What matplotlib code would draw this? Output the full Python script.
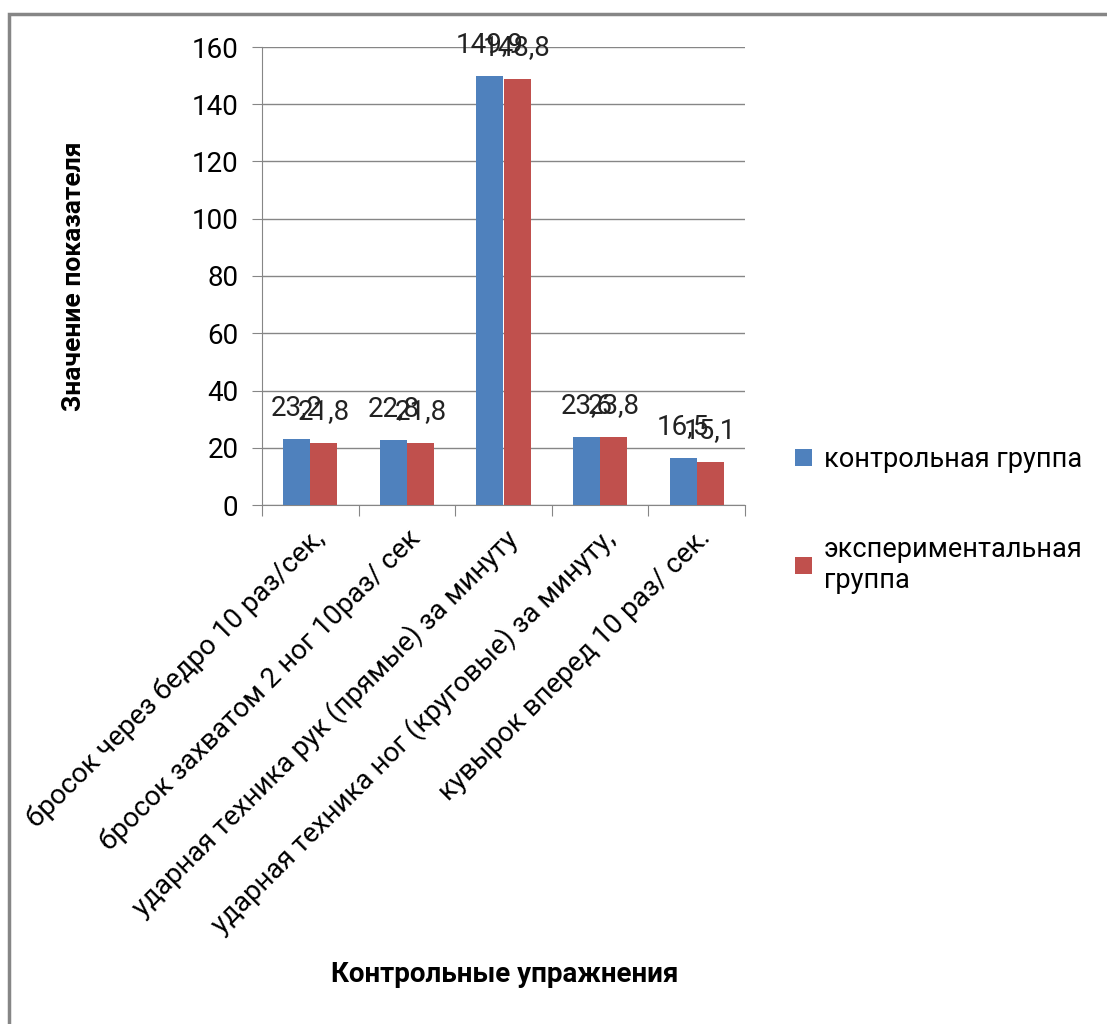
import numpy as np
import matplotlib.pyplot as plt
from matplotlib.patches import Rectangle

plt.rcParams['font.family'] = ['Roboto', 'DejaVu Sans']

categories = ['бросок через бедро 10 раз/сек,',
              'бросок захватом 2 ног 10раз/ сек',
              'ударная техника рук (прямые) за минуту',
              'ударная техника ног (круговые) за минуту,',
              'кувырок вперед 10 раз/ сек.']
control = [23.2, 22.8, 149.9, 23.6, 16.5]
experiment = [21.8, 21.8, 148.8, 23.8, 15.1]
series_names = ['контрольная группа', 'экспериментальная\nгруппа']
colors = ['#4F81BD', '#C0504D']


def fmt(v):
    return f'{v:.1f}'.replace('.', ',')


fig = plt.figure(figsize=(11.07, 10.24), dpi=100)
# outer chart border
fig.patches.append(Rectangle((9 / 1107, -0.05), 1.2, 1 - 14 / 1024 + 0.05,
                             transform=fig.transFigure, fill=False,
                             edgecolor='#868686', linewidth=2.5))

ax = fig.add_axes([262 / 1107, 1 - 505 / 1024, 483 / 1107, 458 / 1024])

x = np.arange(len(categories))
w = 0.28
bars1 = ax.bar(x - w / 2, control, w, color=colors[0], label=series_names[0], zorder=3)
bars2 = ax.bar(x + w / 2, experiment, w, color=colors[1], label=series_names[1], zorder=3)

for bars, vals in [(bars1, control), (bars2, experiment)]:
    for b, v in zip(bars, vals):
        ax.annotate(fmt(v), (b.get_x() + b.get_width() / 2, v),
                    xytext=(0, 13), textcoords='offset points',
                    ha='center', va='bottom', fontsize=20, color='#222222', zorder=4)

ax.set_xlim(-0.5, len(categories) - 0.5)
ax.set_ylim(0, 160)
ax.set_yticks(np.arange(0, 161, 20))
ax.tick_params(axis='y', labelsize=20, length=7, color='#868686', pad=10)
ax.yaxis.grid(True, color='#868686', linewidth=1, zorder=0)

ax.set_xticks(np.arange(-0.5, len(categories)))
ax.set_xticklabels([])
ax.set_xticks(x, minor=True)
ax.set_xticklabels(categories, minor=True, rotation=45, ha='right',
                   rotation_mode='anchor', fontsize=20)
ax.tick_params(axis='x', which='major', length=8, color='#868686')
ax.tick_params(axis='x', which='minor', length=0, pad=14)

for s in ['top', 'right']:
    ax.spines[s].set_visible(False)
for s in ['left', 'bottom']:
    ax.spines[s].set_color('#868686')

ax.set_ylabel('Значение показателя', fontsize=19, fontweight='bold', labelpad=76)
fig.text(505 / 1107, 1 - 975 / 1024, 'Контрольные упражнения', fontsize=20,
         fontweight='bold', ha='center', va='center')

fig.legend(handles=[bars1, bars2], labels=series_names, loc='upper left',
           bbox_to_anchor=(771 / 1107, 1 - 422 / 1024), frameon=False,
           fontsize=19.5, handlelength=0.6, handleheight=0.6, handletextpad=0.45,
           labelspacing=2.3)

fig.savefig('out.png', dpi=100, facecolor='white')
